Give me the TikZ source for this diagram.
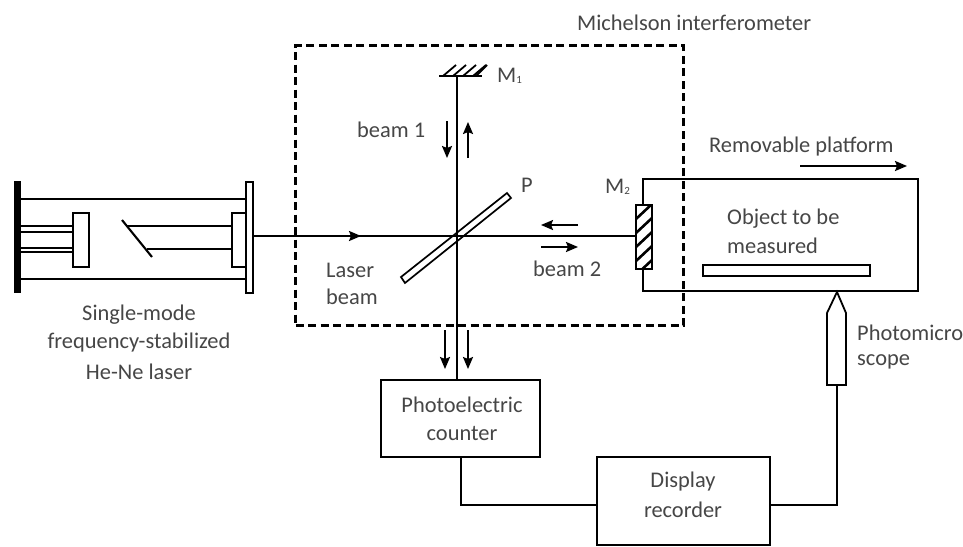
\documentclass[tikz,border=0pt]{standalone}
\usepackage{fontspec}
\setmainfont{Carlito}
\usetikzlibrary{arrows.meta,patterns}
\definecolor{txt}{RGB}{70,70,70}
\tikzset{
 ln/.style={line width=2.1pt,black,line cap=butt},
 headtip/.style={-{Stealth[length=12pt,width=10pt,inset=2pt]}},
 thinar/.style={line width=2pt,black,headtip},
 box/.style={draw=black,line width=2.1pt,fill=white,inner sep=0pt,outer sep=0pt,minimum width=#1},
 lab/.style={text=txt,font=\fontsize{22.4}{26}\selectfont,inner sep=0pt,align=center},
 laba/.style={lab,align=left,anchor=west},
}
\begin{document}
\begin{tikzpicture}[x=1pt,y=-1pt]
\useasboundingbox (0,0) rectangle (963,546);
\fill[white] (0,0) rectangle (963,546);
% boxes
\node[box=159pt,minimum height=77pt] (pc) at (460.5,418.5) {};
\node[box=173pt,minimum height=88pt] (dr) at (683.5,501) {};
% beam lines
\coordinate (m1) at (457,76);
\coordinate (pct) at (457,380);
\coordinate (pcb) at (461,457);
\coordinate (drl) at (597,505);
\coordinate (c1) at (461,505);
\draw[ln] (m1) -- (pct);
\draw[ln] (pcb) -- (c1) -- (drl);
% laser
\fill[black] (14,181) rectangle (21,293);
\node[box=7pt,minimum height=111pt] (plate) at (249.5,237.5) {};
\node[box=16pt,minimum height=54pt] (lb) at (81,240) {};
\node[box=14pt,minimum height=54pt] (rb) at (239,240) {};
\coordinate (a1) at (21,199); \coordinate (a2) at (246,199);
\coordinate (b1) at (21,279); \coordinate (b2) at (246,279);
\draw[ln] (a1) -- (a2);
\draw[ln] (b1) -- (b2);
\draw[ln] (21,226) -- (lb.west |- 0,226);
\draw[ln] (21,232) -- (lb.west |- 0,232);
\draw[ln] (21,248) -- (lb.west |- 0,248);
\draw[ln] (21,252) -- (lb.west |- 0,252);
\draw[ln] (122,220) -- (152,257);
\draw[ln] (127,226) -- (rb.west |- 0,226);
\draw[ln] (147,249) -- (rb.west |- 0,249);
% platform
\node[box=275pt,minimum height=112pt] (pf) at (780.5,235) {};
\node[box=167pt,minimum height=11pt] (obj) at (786.5,270.5) {};
% dashed
\node[draw=black,line width=2.1pt,dash pattern=on 8pt off 4.5pt,minimum width=388pt,minimum height=280pt,inner sep=0pt] (mi) at (489.5,185.5) {};
% M2
\node[box=16pt,minimum height=64pt] (m2) at (644,237) {};
\begin{scope}
\clip (636,205) rectangle (652,269);
\foreach \y in {219,233,247,261,275}
 \draw[line width=2.6pt] (636,\y) -- (652,\y-15);
\end{scope}
\node[draw=black,line width=2.3pt,minimum width=16pt,minimum height=64pt,inner sep=0pt] at (644,237) {};
% main beam
\coordinate (bs) at (253,236);
\draw[ln] (bs) -- (m2.west |- bs);
\draw[line width=2pt,headtip] (340,236) -- (361,236);
% P plate
\draw[line width=1.7pt] (507,193) -- (511,198) -- (405,283) -- (401,277) -- cycle;
% M1 mirror
\draw[ln] (439,76) -- (482,76);
\foreach \x in {443,453,463,473}
 \draw[line width=1.8pt] (\x,76) -- (\x+13,65);
\draw[line width=1.8pt] (476,76) -- (487,65);
% arrows
\draw[thinar] (447,121) -- (447,158);
\draw[thinar] (468,158) -- (468,122);
\draw[thinar] (578,225) -- (541,225);
\draw[thinar] (541,247) -- (578,247);
\draw[thinar] (445,330) -- (445,369);
\draw[thinar] (468,330) -- (468,369);
\draw[thinar] (800,166) -- (907,166);
% microscope
\coordinate (tip) at (837,292);
\draw[line width=1.8pt] (tip) -- (846,313) -- (846,385) -- (827,385) -- (827,313) -- cycle;
\coordinate (ms) at (837,385);
\draw[ln] (ms) -- (837,505) -- (dr.east |- 0,505);
% text
\node[laba] (t1) at (577,23) {Michelson interferometer};
\node[laba] (t2) at (497,76) {M\raisebox{-1pt}{\fontsize{11}{11}\selectfont 1}};
\node[laba] (t3) at (357,130) {beam 1};
\node[laba] (t4) at (521,185) {P};
\node[laba] (t5) at (605,187) {M\raisebox{-1pt}{\fontsize{11}{11}\selectfont 2}};
\node[laba] (t6) at (709,147) {Removable platform};
\node[laba] (t7) at (533,269) {beam 2};
\node[laba] (t8) at (326,270) {Laser};
\node[laba] (t9) at (326,297) {beam};
\node[laba] (t10) at (727,219) {Object to be};
\node[laba] (t11) at (727,246) {measured};
\node[laba] (t12) at (857,333) {Photomicro};
\node[laba] (t13) at (857,362) {scope};
\node[lab] (t14) at (139,315) {Single-mode};
\node[lab] (t15) at (139,343) {frequency-stabilized};
\node[lab] (t16) at (139,372) {He-Ne laser};
\node[lab] (t17) at (462,405) {Photoelectric};
\node[lab] (t18) at (462,433) {counter};
\node[lab] (t19) at (683,482) {Display};
\node[lab] (t20) at (683,510) {recorder};
\end{tikzpicture}
\end{document}
